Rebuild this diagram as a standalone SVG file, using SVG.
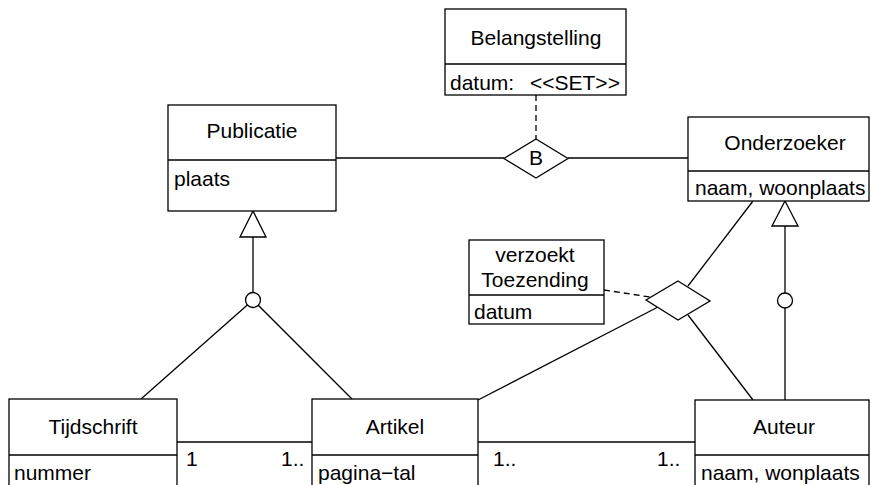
<svg xmlns="http://www.w3.org/2000/svg" width="871" height="485" viewBox="0 0 871 485">
<style>
.box{fill:#fff;stroke:#000;stroke-width:1.3}
.ln{fill:none;stroke:#000;stroke-width:1.3}
.dash{fill:none;stroke:#000;stroke-width:1.3;stroke-dasharray:6,4}
text{font-family:"Liberation Sans",Arial,sans-serif;font-size:21px;fill:#000}
.c{text-anchor:middle}
</style>
<rect width="871" height="485" fill="#fff"/>
<g id="connectors">
<line class="dash" x1="536" y1="95" x2="536" y2="139"/>
<line class="ln" x1="336" y1="158" x2="504" y2="158"/>
<line class="ln" x1="568" y1="158" x2="688" y2="158"/>
<line class="ln" x1="253" y1="237" x2="253" y2="300"/>
<line class="ln" x1="253" y1="300" x2="141" y2="399"/>
<line class="ln" x1="253" y1="300" x2="352" y2="399"/>
<line class="ln" x1="785" y1="226" x2="785" y2="400"/>
<line class="ln" x1="753" y1="201" x2="688" y2="286"/>
<line class="ln" x1="658" y1="307" x2="478" y2="400"/>
<line class="ln" x1="688" y1="315" x2="753" y2="400"/>
<line class="dash" x1="604" y1="290" x2="650" y2="297"/>
<line class="ln" x1="177" y1="442" x2="312" y2="442"/>
<line class="ln" x1="478" y1="442" x2="695" y2="442"/>
<polygon class="box" points="253,211 266,237 240,237"/>
<polygon class="box" points="785,201 798,226 772,226"/>
<circle class="box" cx="253" cy="300" r="7.5"/>
<circle class="box" cx="785" cy="300.5" r="7.5"/>
<text x="186" y="466">1</text>
<text x="281" y="466">1..</text>
<text x="493" y="466">1..</text>
<text x="657" y="466">1..</text>
</g>
<g id="Belangstelling">
<rect class="box" x="445" y="9" width="181" height="86"/>
<line class="ln" x1="445" y1="64" x2="626" y2="64"/>
<text class="c" x="536" y="45">Belangstelling</text>
<text x="450" y="90">datum:</text>
<text x="530" y="90">&lt;&lt;SET&gt;&gt;</text>
</g>
<g id="B">
<polygon class="box" points="536,139 568,158.5 536,178 504,158.5"/>
<text class="c" x="536" y="165">B</text>
</g>
<g id="Publicatie">
<rect class="box" x="168" y="105" width="168" height="106"/>
<line class="ln" x1="168" y1="160" x2="336" y2="160"/>
<text class="c" x="252" y="138">Publicatie</text>
<text x="174" y="186">plaats</text>
</g>
<g id="Onderzoeker">
<rect class="box" x="688" y="117" width="181" height="84"/>
<line class="ln" x1="688" y1="171" x2="869" y2="171"/>
<text class="c" x="785" y="150">Onderzoeker</text>
<text x="695" y="195">naam, woonplaats</text>
</g>
<g id="verzoektToezending">
<rect class="box" x="469" y="240" width="135" height="84"/>
<line class="ln" x1="469" y1="295" x2="604" y2="295"/>
<text class="c" x="535" y="262">verzoekt</text>
<text class="c" x="535" y="287">Toezending</text>
<text x="474" y="319">datum</text>
</g>
<g id="verzoektDiamond">
<polygon class="box" points="678,281 710,301 678,320 646,300"/>
</g>
<g id="Tijdschrift">
<rect class="box" x="9" y="399" width="168" height="92"/>
<line class="ln" x1="9" y1="455" x2="177" y2="455"/>
<text class="c" x="93" y="434">Tijdschrift</text>
<text x="14" y="480">nummer</text>
</g>
<g id="Artikel">
<rect class="box" x="312" y="399" width="166" height="92"/>
<line class="ln" x1="312" y1="455" x2="478" y2="455"/>
<text class="c" x="395" y="434">Artikel</text>
<text x="318" y="480">pagina−tal</text>
</g>
<g id="Auteur">
<rect class="box" x="695" y="400" width="174" height="91"/>
<line class="ln" x1="695" y1="455" x2="869" y2="455"/>
<text class="c" x="784" y="434">Auteur</text>
<text x="701" y="480">naam, wonplaats</text>
</g>
</svg>
